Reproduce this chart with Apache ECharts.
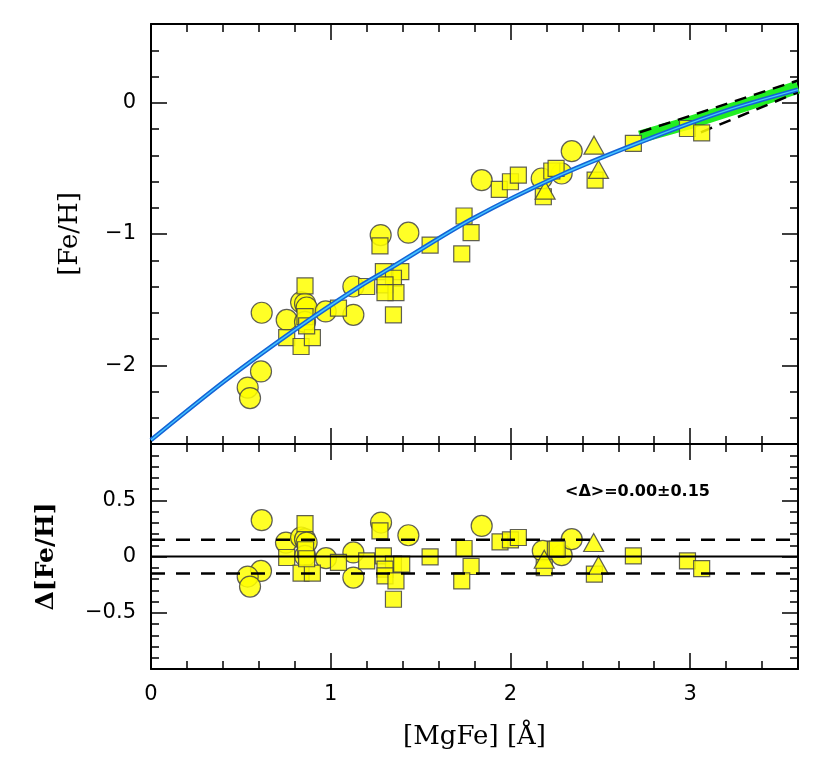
<!DOCTYPE html>
<html>
<head>
<meta charset="utf-8">
<script src="https://cdn.jsdelivr.net/npm/echarts@6/dist/echarts.min.js"></script>
<style>
  html, body { margin: 0; padding: 0; background: #fff; }
  #chart { width: 830px; height: 766px; }
</style>
</head>
<body>
<div id="chart"></div>
<script>
// tick labels
const xMajorTicks = [0, 1, 2, 3];
const fehMajorTicks = [-2, -1, 0];
const dfehMajorTicks = [-0.5, 0, 0.5];

// top panel: [MgFe] vs [Fe/H]
const topCircles = [
  [0.616, -1.60], [0.755, -1.655], [0.835, -1.52], [0.857, -1.53], [0.866, -1.56],
  [0.857, -1.67], [0.972, -1.59], [1.126, -1.616], [1.126, -1.40], [0.612, -2.047],
  [0.538, -2.17], [0.551, -2.25], [1.278, -1.008], [1.432, -0.99], [1.84, -0.59],
  [2.174, -0.577], [2.285, -0.539], [2.341, -0.369]
];
const topSquares = [
  [0.857, -1.395], [0.755, -1.79], [0.835, -1.857], [0.898, -1.79], [0.857, -1.63],
  [0.866, -1.70], [1.043, -1.565], [1.2, -1.40], [1.274, -1.091], [1.553, -1.084],
  [1.742, -0.863], [1.781, -0.99], [1.729, -1.152], [1.938, -0.66], [2.0, -0.602],
  [2.044, -0.551], [2.183, -0.716], [2.23, -0.52], [2.254, -0.50], [2.471, -0.589],
  [2.684, -0.31], [2.985, -0.196], [3.064, -0.23], [1.349, -1.616], [1.293, -1.287],
  [1.39, -1.287], [1.349, -1.337], [1.302, -1.388], [1.363, -1.446], [1.302, -1.446]
];
const topTriangles = [[2.465, -0.323], [2.49, -0.508], [2.193, -0.666]];

// fit curve and high-metallicity model band
const fitCurve = [
  [0, -2.57], [0.41, -2.12], [0.8, -1.73], [1.16, -1.40], [1.32, -1.27],
  [1.78, -0.89], [2.28, -0.55], [2.78, -0.27], [3.2, -0.06], [3.6, 0.10]
];
const greenBand = [[2.72, -0.26], [3.0, -0.15], [3.3, -0.02], [3.6, 0.12]];
const bandUpper = [[2.72, -0.225], [3.6, 0.17]];
const bandLower = [[3.06, -0.225], [3.6, 0.08]];

// bottom panel: residuals
const resCircles = [
  [0.616, 0.323], [0.751, 0.124], [0.835, 0.169], [0.857, 0.154], [0.866, 0.124],
  [0.857, 0.005], [0.974, -0.015], [1.126, 0.036], [1.126, -0.187], [0.612, -0.128],
  [0.538, -0.178], [0.551, -0.267], [1.28, 0.302], [1.432, 0.189], [1.84, 0.272],
  [2.18, 0.05], [2.285, 0.012], [2.341, 0.154]
];
const resSquares = [
  [0.857, 0.293], [0.755, -0.009], [0.835, -0.148], [0.898, -0.148], [0.86, 0.06],
  [0.866, -0.02], [1.043, -0.053], [1.2, -0.039], [1.274, 0.228], [1.349, -0.38],
  [1.293, 0.005], [1.349, -0.068], [1.395, -0.068], [1.302, -0.113], [1.302, -0.172],
  [1.363, -0.217], [1.553, -0.004], [1.742, 0.071], [1.781, -0.089], [1.729, -0.217],
  [1.942, 0.13], [2.0, 0.148], [2.044, 0.169], [2.188, -0.098], [2.25, 0.065],
  [2.26, 0.065], [2.467, -0.157], [2.684, 0.005], [2.985, -0.039], [3.064, -0.107]
];
const resTriangles = [[2.463, 0.124], [2.49, -0.077], [2.188, -0.024]];
const resZero = [[0, 0], [3.6, 0]];
const resUpper = [[0, 0.15], [3.6, 0.15]];
const resLower = [[0, -0.15], [3.6, -0.15]];

const numFont = 'DejaVu Sans';
const nameFont = 'DejaVu Serif';
const frame = { color: '#000', width: 2 };
const minus = v => String(v).replace('-', '\u2212');

// one axis per side for the small ticks, another for the long ones
function minorAxis(grid, pos, min, max, step) {
  return {
    type: 'value', gridIndex: grid, position: pos, min, max, interval: step,
    axisLine: { show: true, onZero: false, lineStyle: frame },
    axisTick: { show: true, inside: true, length: 8, lineStyle: { color: '#000', width: 1.5 } },
    axisLabel: { show: false }, splitLine: { show: false }
  };
}
function majorAxis(grid, pos, min, max, ticks, labels, extra) {
  return Object.assign({
    type: 'value', gridIndex: grid, position: pos, min, max,
    axisLine: { show: false, onZero: false },
    axisTick: { show: true, inside: true, length: 16, customValues: ticks, lineStyle: { color: '#000', width: 1.5 } },
    axisLabel: labels ? {
      show: true, customValues: ticks, formatter: minus, margin: 15,
      fontFamily: numFont, fontSize: 21, color: '#000'
    } : { show: false },
    splitLine: { show: false }
  }, extra || {});
}

const xAxes = [
  majorAxis(0, 'bottom', 0, 3.6, xMajorTicks, false),            // 0 top panel data axis
  minorAxis(0, 'bottom', 0, 3.6, 0.2),
  minorAxis(0, 'top', 0, 3.6, 0.2),
  majorAxis(0, 'top', 0, 3.6, xMajorTicks, false),
  majorAxis(1, 'bottom', 0, 3.6, xMajorTicks, true, {               // 4 bottom panel data axis
    name: '[MgFe] [\u00c5]', nameLocation: 'middle', nameGap: 55,
    nameTextStyle: { fontFamily: nameFont, fontSize: 26, color: '#000' }
  }),
  minorAxis(1, 'bottom', 0, 3.6, 0.2),
  minorAxis(1, 'top', 0, 3.6, 0.2),
  majorAxis(1, 'top', 0, 3.6, xMajorTicks, false)
];
const yAxes = [
  majorAxis(0, 'left', -2.6, 0.6, fehMajorTicks, true, {            // 0 top panel data axis
    name: '[Fe/H]', nameLocation: 'middle', nameGap: 68, nameRotate: 90,
    nameTextStyle: { fontFamily: nameFont, fontSize: 26, color: '#000' }
  }),
  minorAxis(0, 'left', -2.6, 0.6, 0.2),
  minorAxis(0, 'right', -2.6, 0.6, 0.2),
  majorAxis(0, 'right', -2.6, 0.6, fehMajorTicks, false),
  majorAxis(1, 'left', -1, 1, dfehMajorTicks, true, {               // 4 bottom panel data axis
    name: '\u0394[Fe/H]', nameLocation: 'middle', nameGap: 92, nameRotate: 90,
    nameTextStyle: { fontFamily: nameFont, fontSize: 25, fontWeight: 'bold', color: '#000' }
  }),
  minorAxis(1, 'left', -1, 1, 0.1),
  minorAxis(1, 'right', -1, 1, 0.1),
  majorAxis(1, 'right', -1, 1, dfehMajorTicks, false)
];

const marker = { color: '#ffff00', borderColor: '#444', borderWidth: 1.2, opacity: 0.85 };
function points(data, symbol, size, ax) {
  return {
    type: 'scatter', data, symbol, symbolSize: size, xAxisIndex: ax, yAxisIndex: ax,
    itemStyle: marker, z: 3, silent: true
  };
}
function line(data, ax, style, z, smooth) {
  return {
    type: 'line', data, xAxisIndex: ax, yAxisIndex: ax, showSymbol: false,
    smooth: smooth || false, lineStyle: style, z, silent: true
  };
}

const chart = echarts.init(document.getElementById('chart'));
chart.setOption({
  animation: false,
  backgroundColor: '#fff',
  grid: [
    { left: 151, top: 24, width: 647, height: 420 },
    { left: 151, top: 444, width: 647, height: 225 }
  ],
  xAxis: xAxes,
  yAxis: yAxes,
  series: [
    line(greenBand, 0, { color: '#22ee22', width: 13, cap: 'butt' }, 2),
    line(bandUpper, 0, { color: '#000', width: 2.5, type: [12, 8] }, 2.5),
    line(bandLower, 0, { color: '#000', width: 2.5, type: [12, 8] }, 2.5),
    points(topCircles, 'circle', 21, 0),
    points(topSquares, 'rect', 16, 0),
    points(topTriangles, 'triangle', [20, 18], 0),
    line(fitCurve, 0, { color: '#1463d6', width: 4.5 }, 4, 0.3),
    line(fitCurve, 0, { color: '#44c4ff', width: 1.5 }, 4.1, 0.3),

    points(resCircles, 'circle', 21, 4),
    points(resSquares, 'rect', 16, 4),
    points(resTriangles, 'triangle', [20, 18], 4),
    line(resZero, 4, { color: '#000', width: 2 }, 4),
    line(resUpper, 4, { color: '#000', width: 2.5, type: [14, 11] }, 4),
    line(resLower, 4, { color: '#000', width: 2.5, type: [14, 11] }, 4)
  ],
  graphic: [{
    type: 'text', left: 565, top: 484,
    style: { text: '<\u0394>=0.00\u00b10.15', font: 'bold 16px "DejaVu Sans"', fill: '#000' }
  }]
});
</script>
</body>
</html>
